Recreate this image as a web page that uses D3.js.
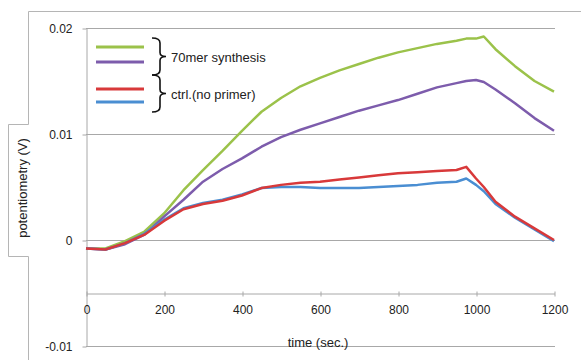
<!DOCTYPE html>
<html>
<head>
<meta charset="utf-8">
<script src="https://cdn.jsdelivr.net/npm/d3@7"></script>
<style>
body { margin: 0; background: #fff; }
svg text { font-family: "Liberation Sans", Arial, sans-serif; fill: #222; }
</style>
</head>
<body>
<svg></svg>
<script>
// time in seconds
var time = [0, 50, 100, 150, 200, 250, 300, 350, 400, 450, 500, 550, 600, 650, 700,
            750, 800, 850, 900, 950, 975, 1000, 1020, 1050, 1100, 1150, 1200];

// 70mer synthesis (two runs)
var synthA = [-0.0008, -0.0008, -0.0001, 0.0008, 0.0025, 0.0047, 0.0066, 0.0084, 0.0103, 0.0121,
              0.0134, 0.0145, 0.0153, 0.0160, 0.0166, 0.0172, 0.0177, 0.0181, 0.0185, 0.0188,
              0.0190, 0.0190, 0.0192, 0.0180, 0.0164, 0.0150, 0.0140];
var synthB = [-0.0008, -0.0009, -0.0004, 0.0005, 0.0022, 0.0038, 0.0055, 0.0067, 0.0077, 0.0088,
              0.0097, 0.0104, 0.0110, 0.0116, 0.0122, 0.0127, 0.0132, 0.0138, 0.0144, 0.0148,
              0.0150, 0.0151, 0.0149, 0.0142, 0.0129, 0.0115, 0.0103];

// ctrl. (no primer)
var ctrlA = [-0.0008, -0.0009, -0.0003, 0.0005, 0.0018, 0.0029, 0.0034, 0.0037, 0.0042, 0.0049,
             0.0052, 0.0054, 0.0055, 0.0057, 0.0059, 0.0061, 0.0063, 0.0064, 0.0065, 0.0066,
             0.0069, 0.0058, 0.0050, 0.0036, 0.0022, 0.0011, 0.0000];
var ctrlB = [-0.0008, -0.0009, -0.0003, 0.0006, 0.0019, 0.0030, 0.0035, 0.0038, 0.0043, 0.0049,
             0.0050, 0.0050, 0.0049, 0.0049, 0.0049, 0.0050, 0.0051, 0.0052, 0.0054, 0.0055,
             0.0058, 0.0052, 0.0046, 0.0034, 0.0021, 0.0010, -0.0001];

var yTicks = [-0.01, 0, 0.01, 0.02];
var yTickLabels = ["-0.01", "0", "0.01", "0.02"];
var xTicks = [0, 200, 400, 600, 800, 1000, 1200];
var xTickLabels = ["0", "200", "400", "600", "800", "1000", "1200"];

var groupLabels = ["70mer synthesis", "ctrl.(no primer)"];

var svgWidth = 581, svgHeight = 360;

var svg = d3.select("svg")
    .attr("width", svgWidth)
    .attr("height", svgHeight);

// outer frame with the y-label tab
svg.append("path")
    .attr("d", "M581,11.5 H28.5 V124.5 H8.5 V256.5 H28.5 V360")
    .attr("fill", "none")
    .attr("stroke", "#b5b5b5")
    .attr("stroke-width", 1);

var xScale = d3.scaleLinear()
    .domain([0, 1200])
    .range([86, 554]);
var yScale = d3.scaleLinear()
    .domain([-0.01, 0.02])
    .range([346, 28]);

// horizontal grid
svg.append("g")
    .selectAll("line")
    .data(yTicks)
    .join("line")
    .attr("x1", 86)
    .attr("x2", 555)
    .attr("y1", d => Math.round(yScale(d)) + 0.5)
    .attr("y2", d => Math.round(yScale(d)) + 0.5)
    .attr("stroke", "#a8a8a8")
    .attr("stroke-width", 1);

var y_axis = d3.axisLeft(yScale)
    .tickValues(yTicks)
    .tickFormat((d, i) => yTickLabels[i])
    .tickSizeInner(4)
    .tickSizeOuter(0)
    .tickPadding(10);

var gy = svg.append("g")
    .attr("transform", "translate(86.5,0.5)")
    .call(y_axis);
gy.selectAll("path, line").attr("stroke", "#a8a8a8");
gy.selectAll("text").style("font-size", "12px").attr("fill", "#222");

var x_axis = d3.axisBottom(xScale)
    .tickValues(xTicks)
    .tickFormat((d, i) => xTickLabels[i])
    .tickSizeInner(3)
    .tickSizeOuter(0)
    .tickPadding(9);

var gx = svg.append("g")
    .attr("transform", "translate(0.5,293.5)")
    .call(x_axis);
gx.selectAll("path, line").attr("stroke", "#a8a8a8");
gx.selectAll("line").attr("y1", -2);
gx.selectAll("text").style("font-size", "12px").attr("fill", "#222");

svg.append("text")
    .attr("x", 318)
    .attr("y", 347)
    .attr("text-anchor", "middle")
    .style("font-size", "13px")
    .text("time (sec.)");

svg.append("text")
    .attr("transform", "translate(27,188) rotate(-90)")
    .attr("text-anchor", "middle")
    .style("font-size", "13px")
    .text("potentiometry (V)");

// curves
var series = [
    {values: synthA, color: "#9bc24a"},
    {values: synthB, color: "#7d5cac"},
    {values: ctrlB, color: "#4a8ed2"},
    {values: ctrlA, color: "#d8393a"}
];

var line = d3.line()
    .x((d, i) => xScale(time[i]))
    .y(d => yScale(d));

svg.append("g")
    .selectAll("path")
    .data(series)
    .join("path")
    .attr("d", d => line(d.values))
    .attr("fill", "none")
    .attr("stroke", d => d.color)
    .attr("stroke-width", 2.5)
    .attr("stroke-linejoin", "round");

// legend
var legendY = [47, 62, 89, 102];
var legendColors = ["#9bc24a", "#7d5cac", "#d8393a", "#4a8ed2"];
svg.append("g")
    .selectAll("line")
    .data(legendY)
    .join("line")
    .attr("x1", 96)
    .attr("x2", 144)
    .attr("y1", d => d)
    .attr("y2", d => d)
    .attr("stroke", (d, i) => legendColors[i])
    .attr("stroke-width", 3);

var braces = [[38, 75], [75, 112]];
svg.append("g")
    .selectAll("path")
    .data(braces)
    .join("path")
    .attr("d", function(b) {
        var m = (b[0] + b[1]) / 2;
        return "M152," + b[0] + " Q160," + b[0] + " 160," + (b[0] + 5) +
            " L160," + (m - 4) + " Q160," + m + " 166," + m +
            " Q160," + m + " 160," + (m + 4) +
            " L160," + (b[1] - 5) + " Q160," + b[1] + " 152," + b[1];
    })
    .attr("fill", "none")
    .attr("stroke", "#111")
    .attr("stroke-width", 1.6);

svg.append("g")
    .selectAll("text")
    .data(groupLabels)
    .join("text")
    .attr("x", 171)
    .attr("y", (d, i) => (braces[i][0] + braces[i][1]) / 2 + 5)
    .style("font-size", "13px")
    .text(d => d);
</script>
</body>
</html>
